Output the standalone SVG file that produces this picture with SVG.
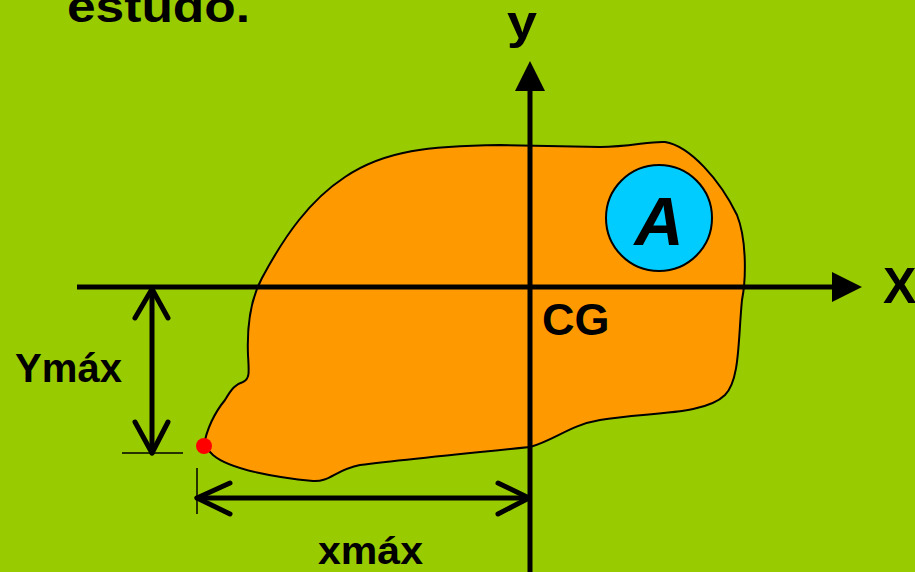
<svg xmlns="http://www.w3.org/2000/svg" width="915" height="572" viewBox="0 0 915 572">
<defs>
<style>
.lbl{font-family:"Liberation Sans",Arial,sans-serif;font-weight:bold;fill:#000}
.axis{stroke:#000;stroke-width:5;fill:none}
.dim{stroke:#000;stroke-width:5;fill:none;stroke-linecap:round;stroke-linejoin:round}
.tick{stroke:#000;stroke-width:1.5;fill:none}
</style>
</defs>
<rect x="0" y="0" width="915" height="572" fill="#99CC00"/>
<text class="lbl" x="67" y="22" font-size="44" textLength="183" lengthAdjust="spacingAndGlyphs">estudo.</text>
<g id="area">
<path d="M 204 446 C 206 430 215 412 225 400 C 232 388 236 384 243 382 C 250 379 249 372 248 355 C 247 330 250 300 262 278 C 285 235 310 200 345 177 C 385 150 430 146 500 145 L 600 147 C 630 147 650 141 665 142 C 690 146 720 180 737 215 C 747 240 746 280 742 300 C 738 340 740 380 725 395 C 705 415 650 412 600 420 C 570 425 555 440 530 447 C 480 452 400 460 360 465 C 335 470 330 482 313 481 C 280 478 230 470 213 455 Z" fill="#FF9900" stroke="#000" stroke-width="2"/>
</g>
<g id="connectors">
<line class="axis" x1="77" y1="287" x2="834" y2="287"/>
<polygon points="832,272 862,287 832,302" fill="#000"/>
<line class="axis" x1="530" y1="572" x2="530" y2="89"/>
<polygon points="515,91 530,61 545,91" fill="#000"/>
<line class="dim" x1="152" y1="290" x2="152" y2="453"/>
<polyline class="dim" points="135,318 152,289 168,318"/>
<polyline class="dim" points="135,422 152,453 168,422"/>
<line class="tick" x1="122" y1="453" x2="183" y2="453"/>
<line class="dim" x1="197" y1="498" x2="528" y2="498"/>
<polyline class="dim" points="230,483 197,498 230,514"/>
<polyline class="dim" points="498,483 529,498 498,514"/>
<line class="tick" x1="197" y1="468" x2="197" y2="514"/>
</g>
<g id="cg">
<text class="lbl" x="542" y="335" font-size="45">CG</text>
</g>
<g id="circleA">
<circle cx="659" cy="218" r="53" fill="#00CCFF" stroke="#000" stroke-width="2"/>
<text class="lbl" x="659" y="245" font-size="68" font-style="italic" text-anchor="middle">A</text>
</g>
<g id="point">
<circle cx="204" cy="446" r="8" fill="#FF0000"/>
</g>
<g id="labels">
<text class="lbl" x="507" y="38" font-size="46" textLength="30" lengthAdjust="spacingAndGlyphs">y</text>
<text class="lbl" x="883" y="303" font-size="50">X</text>
<text class="lbl" x="15" y="382" font-size="40" textLength="107" lengthAdjust="spacingAndGlyphs">Ymáx</text>
<text class="lbl" x="318" y="564" font-size="39" textLength="105" lengthAdjust="spacingAndGlyphs">xmáx</text>
</g>
</svg>
